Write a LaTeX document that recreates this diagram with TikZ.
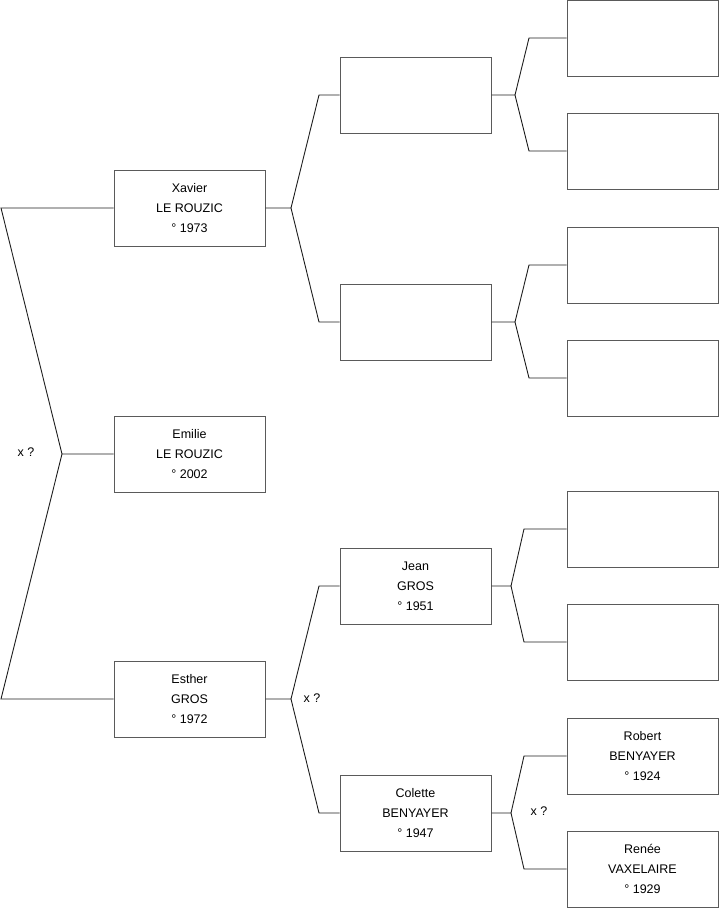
\documentclass[tikz,border=0pt]{standalone}
\usepackage{fontspec}
\setmainfont{Liberation Sans}
\usepackage{xcolor}
\usetikzlibrary{positioning}
\definecolor{TreeLine}{HTML}{1E1E1E}
\definecolor{TreeBox}{HTML}{5A5A5A}
\tikzset{
  personbox/.style={draw=TreeBox,line width=1pt,minimum width=151pt,minimum height=76pt,inner sep=0pt,align=center,font=\fontsize{12.5}{20}\selectfont,fill=white},
  treelink/.style={draw=TreeLine,line width=0.9pt},
  unionlabel/.style={font=\fontsize{12.5}{15}\selectfont,inner sep=0pt}
}

\begin{document}
\begin{tikzpicture}[x=1pt,y=-1pt]
\useasboundingbox (0,0) rectangle (719,908);
% generation 1
\node[personbox] (emilie) at (189.5,454) {Emilie\\LE ROUZIC\\° 2002};
% generation 2
\node[personbox] (xavier) at (189.5,208) {Xavier\\LE ROUZIC\\° 1973};
\node[personbox] (esther) at (189.5,699) {Esther\\GROS\\° 1972};
% generation 3
\node[personbox] (xpere) at (415.5,95) {};
\node[personbox] (xmere) at (415.5,322) {};
\node[personbox] (jean) at (415.5,586) {Jean\\GROS\\° 1951};
\node[personbox] (colette) at (415.5,813) {Colette\\BENYAYER\\° 1947};
% generation 4
\node[personbox] (g1) at (642.5,38) {};
\node[personbox] (g2) at (642.5,151) {};
\node[personbox] (g3) at (642.5,265) {};
\node[personbox] (g4) at (642.5,378) {};
\node[personbox] (g5) at (642.5,529) {};
\node[personbox] (g6) at (642.5,642) {};
\node[personbox] (robert) at (642.5,756) {Robert\\BENYAYER\\° 1924};
\node[personbox] (renee) at (642.5,869) {Renée\\VAXELAIRE\\° 1929};

% junctions
\coordinate (jE) at (62,454);
\coordinate (tXa) at (1,208);
\coordinate (tEs) at (1,699);
\coordinate (jX) at (291,208);
\coordinate (tX1) at (319,95);
\coordinate (tX2) at (319,322);
\coordinate (jS) at (291,699);
\coordinate (tS1) at (319,586);
\coordinate (tS2) at (319,813);
\coordinate (jP) at (515,95);
\coordinate (tP1) at (529,38);
\coordinate (tP2) at (529,151);
\coordinate (jM) at (515,322);
\coordinate (tM1) at (529,265);
\coordinate (tM2) at (529,378);
\coordinate (jJ) at (511,586);
\coordinate (tJ1) at (524,529);
\coordinate (tJ2) at (524,642);
\coordinate (jC) at (511,813);
\coordinate (tC1) at (524,756);
\coordinate (tC2) at (524,869);

\draw[treelink] (emilie.west) -- (jE) -- (tXa) -- (xavier.west);
\draw[treelink] (jE) -- (tEs) -- (esther.west);
\draw[treelink] (xavier.east) -- (jX) -- (tX1) -- (xpere.west);
\draw[treelink] (jX) -- (tX2) -- (xmere.west);
\draw[treelink] (esther.east) -- (jS) -- (tS1) -- (jean.west);
\draw[treelink] (jS) -- (tS2) -- (colette.west);
\draw[treelink] (xpere.east) -- (jP) -- (tP1) -- (g1.west);
\draw[treelink] (jP) -- (tP2) -- (g2.west);
\draw[treelink] (xmere.east) -- (jM) -- (tM1) -- (g3.west);
\draw[treelink] (jM) -- (tM2) -- (g4.west);
\draw[treelink] (jean.east) -- (jJ) -- (tJ1) -- (g5.west);
\draw[treelink] (jJ) -- (tJ2) -- (g6.west);
\draw[treelink] (colette.east) -- (jC) -- (tC1) -- (robert.west);
\draw[treelink] (jC) -- (tC2) -- (renee.west);

% marriage marks
\node[unionlabel] (uE) at (26,452) {x ?};
\node[unionlabel] (uS) at (312,698) {x ?};
\node[unionlabel] (uC) at (539,811) {x ?};
\end{tikzpicture}
\end{document}
